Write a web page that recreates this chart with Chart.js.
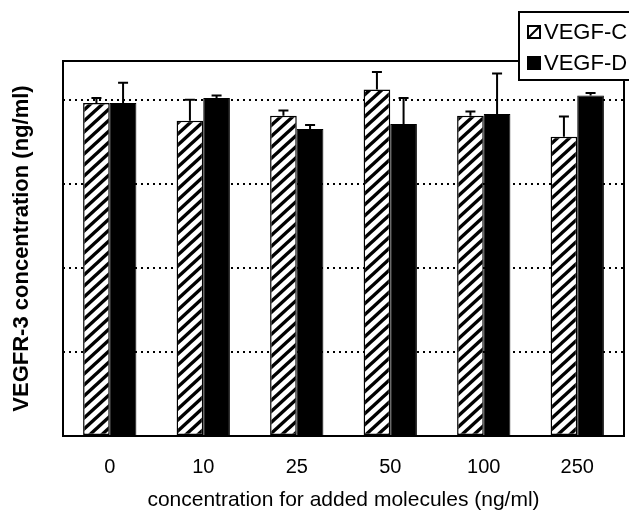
<!DOCTYPE html>
<html>
<head>
<meta charset="utf-8">
<script src="https://cdn.jsdelivr.net/npm/chart.js@4.4.0/dist/chart.umd.min.js"></script>
<style>
  html, body { margin: 0; padding: 0; background: #fff; }
  canvas { display: block; }
</style>
</head>
<body>
<canvas id="myChart" width="629" height="517"></canvas>
<script>
// values (no y tick labels in the original)
const categories = ['0', '10', '25', '50', '100', '250'];
const vegfC = [3.96, 3.75, 3.81, 4.12, 3.81, 3.56];
const vegfCErr = [0.06, 0.25, 0.06, 0.21, 0.05, 0.24];
const vegfD = [3.96, 4.02, 3.65, 3.71, 3.83, 4.05];
const vegfDErr = [0.24, 0.03, 0.05, 0.31, 0.48, 0.03];
const errors = [vegfCErr, vegfDErr];

// diagonal hatch fill like the scanned figure
function makeHatch() {
    const w = 12, h = 11;
    const c = document.createElement('canvas');
    c.width = w; c.height = h;
    const g = c.getContext('2d');
    g.fillStyle = '#fff';
    g.fillRect(0, 0, w, h);
    g.strokeStyle = '#000';
    g.lineWidth = 3.4;
    g.beginPath();
    for (let k = -1; k <= 1; k++) {
        g.moveTo(-w + k * w, 2 * h);
        g.lineTo(2 * w + k * w, -h);
    }
    g.stroke();
    return g.createPattern(c, 'repeat');
}
const hatch = makeHatch();

const errorBars = {
    id: 'errorBars',
    afterDatasetsDraw(chart) {
        const ctx = chart.ctx;
        const y = chart.scales.y;
        ctx.save();
        ctx.strokeStyle = '#000';
        ctx.lineWidth = 2;
        chart.data.datasets.forEach((ds, i) => {
            chart.getDatasetMeta(i).data.forEach((bar, j) => {
                const top = y.getPixelForValue(ds.data[j] + errors[i][j]);
                ctx.beginPath();
                ctx.moveTo(bar.x, bar.y);
                ctx.lineTo(bar.x, top);
                ctx.moveTo(bar.x - 5, top);
                ctx.lineTo(bar.x + 5, top);
                ctx.stroke();
            });
        });
        ctx.restore();
    }
};

const frameAndLegend = {
    id: 'frameAndLegend',
    afterDraw(chart) {
        const ctx = chart.ctx;
        const a = chart.chartArea;
        ctx.save();
        ctx.strokeStyle = '#000';
        ctx.lineWidth = 2;
        ctx.strokeRect(a.left, a.top, a.right - a.left, a.bottom - a.top);

        // boxed legend sitting over the top-right corner
        ctx.fillStyle = '#fff';
        ctx.fillRect(519, 12, 120, 68);
        ctx.strokeRect(519, 12, 120, 68);
        const items = chart.data.datasets;
        ctx.font = '22px "Liberation Sans", Arial, sans-serif';
        ctx.textBaseline = 'middle';
        items.forEach((ds, i) => {
            const cy = 32 + i * 31;
            ctx.fillStyle = ds.backgroundColor === hatch ? '#fff' : ds.backgroundColor;
            ctx.fillRect(528, cy - 6, 12, 12);
            if (ds.backgroundColor === hatch) {
                ctx.lineWidth = 2;
                ctx.beginPath();
                ctx.moveTo(529, cy + 5);
                ctx.lineTo(539, cy - 5);
                ctx.stroke();
            }
            ctx.lineWidth = 2;
            ctx.strokeRect(528, cy - 6, 12, 12);
            ctx.fillStyle = '#000';
            ctx.fillText(ds.label, 544, cy + 1);
        });
        ctx.restore();
    }
};

new Chart(document.getElementById('myChart'), {
    type: 'bar',
    data: {
        labels: categories,
        datasets: [
            {
                label: 'VEGF-C',
                data: vegfC,
                backgroundColor: hatch,
                borderColor: '#000',
                borderWidth: 1.5,
                borderSkipped: false
            },
            {
                label: 'VEGF-D',
                data: vegfD,
                backgroundColor: '#000',
                borderColor: '#000',
                borderWidth: 1
            }
        ]
    },
    plugins: [errorBars, frameAndLegend],
    options: {
        responsive: false,
        animation: false,
        layout: { padding: { top: 61, right: 5, left: 0, bottom: 0 } },
        plugins: {
            legend: { display: false },
            tooltip: { enabled: false }
        },
        datasets: {
            bar: { categoryPercentage: 0.57, barPercentage: 1 }
        },
        scales: {
            x: {
                grid: { display: false, drawTicks: false },
                border: { display: false },
                ticks: {
                    color: '#000',
                    padding: 19,
                    font: { family: '"Liberation Sans", Arial, sans-serif', size: 20 }
                },
                title: {
                    display: true,
                    text: 'concentration for added molecules (ng/ml)',
                    color: '#000',
                    padding: { top: 0, bottom: 4 },
                    font: { family: '"Liberation Sans", Arial, sans-serif', size: 21 }
                },
                afterFit(scale) { scale.height = 81; }
            },
            y: {
                min: 0,
                max: 4.46,
                ticks: { display: false, stepSize: 1 },
                grid: {
                    drawTicks: false,
                    lineWidth: 2,
                    color: (c) => (c.tick && c.tick.value >= 1 && c.tick.value <= 4 && Number.isInteger(c.tick.value)) ? '#000' : 'rgba(0,0,0,0)'
                },
                border: { display: false, dash: [2, 4] },
                title: {
                    display: true,
                    text: 'VEGFR-3 concentration (ng/ml)',
                    color: '#000',
                    padding: { top: 9, bottom: 0 },
                    font: { family: '"Liberation Sans", Arial, sans-serif', size: 22, weight: 'bold' }
                },
                afterFit(scale) { scale.width = 63; }
            }
        }
    }
});
</script>
</body>
</html>
